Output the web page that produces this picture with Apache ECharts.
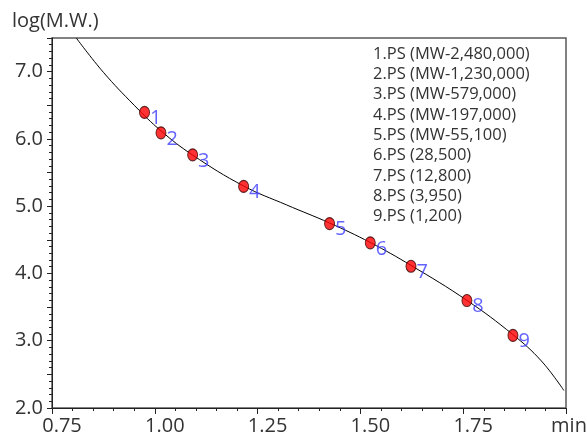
<!DOCTYPE html>
<html>
<head>
<meta charset="utf-8">
<script src="https://cdn.jsdelivr.net/npm/echarts@6/dist/echarts.min.js"></script>
<style>
  html, body { margin: 0; padding: 0; background: #fff; }
  #chart { width: 587px; height: 437px; }
</style>
</head>
<body>
<div id="chart"></div>
<script>
// Polystyrene standards: elution time (min) and log of molecular weight
const standardNumbers = ['1', '2', '3', '4', '5', '6', '7', '8', '9'];
const standardNames = [
  '1.PS (MW-2,480,000)',
  '2.PS (MW-1,230,000)',
  '3.PS (MW-579,000)',
  '4.PS (MW-197,000)',
  '5.PS (MW-55,100)',
  '6.PS (28,500)',
  '7.PS (12,800)',
  '8.PS (3,950)',
  '9.PS (1,200)'
];
const elutionTimes = [0.975, 1.015, 1.092, 1.216, 1.425, 1.524, 1.623, 1.759, 1.871];
const logMW = [6.394, 6.090, 5.763, 5.294, 4.741, 4.455, 4.107, 3.597, 3.079];

// Calibration curve, read along its length
const curveTimes = [0.809, 0.875, 0.950, 1.015, 1.092, 1.216, 1.320, 1.425, 1.524, 1.623, 1.759, 1.871, 1.940, 1.995];
const curveLogMW = [7.50, 6.99, 6.50, 6.12, 5.76, 5.30, 5.02, 4.75, 4.46, 4.12, 3.60, 3.09, 2.70, 2.26];

// Axis ranges
const xMin = 0.75, xMax = 2.0, xStep = 0.25;
const yMin = 2.0, yMax = 7.5, yStep = 0.5;
const xUnitLabel = 'min';
const yTitle = 'log(M.W.)';

const FONT = '"Open Sans", "Noto Sans", sans-serif';
const TEXT = '#333333';

const chart = echarts.init(document.getElementById('chart'), null, { renderer: 'canvas' });

const pointData = elutionTimes.map((t, i) => [t, logMW[i], standardNumbers[i]]);
const curveData = curveTimes.map((t, i) => [t, curveLogMW[i]]);

chart.setOption({
  animation: false,
  backgroundColor: '#ffffff',
  grid: {
    left: 52, right: 21, top: 38, bottom: 29,
    containLabel: false,
    outerBoundsMode: 'none',
    show: true,
    borderColor: '#5a5a5a',
    borderWidth: 1.5
  },
  xAxis: {
    type: 'value',
    min: xMin, max: xMax, interval: xStep,
    axisLine: { show: true, onZero: false, lineStyle: { color: '#222', width: 1 } },
    axisTick: { show: true, inside: false, length: 6, lineStyle: { color: '#222' } },
    minorTick: { show: true, splitNumber: 5, length: 3, lineStyle: { color: '#222' } },
    splitLine: { show: false },
    axisLabel: {
      show: true,
      showMinLabel: true,
      showMaxLabel: true,
      margin: 8,
      color: TEXT,
      fontFamily: FONT,
      fontSize: 20,
      formatter: v => Math.abs(v - xMax) < 1e-9 ? '{m|' + xUnitLabel + '}' : '{n|' + v.toFixed(2) + '}',
      rich: {
        n: { fontFamily: FONT, fontSize: 20, color: TEXT, padding: [0, 0, 0, 20] },
        m: { fontFamily: FONT, fontSize: 20, color: TEXT, padding: [0, 0, 0, 6] }
      }
    }
  },
  yAxis: {
    type: 'value',
    min: yMin, max: yMax, interval: yStep,
    axisLine: { show: true, onZero: false, lineStyle: { color: '#222', width: 1 } },
    axisTick: { show: true, inside: false, length: 5, lineStyle: { color: '#222' } },
    minorTick: { show: true, splitNumber: 5, length: 3, lineStyle: { color: '#222' } },
    splitLine: { show: false },
    axisLabel: {
      show: true,
      margin: 9,
      color: TEXT,
      fontFamily: FONT,
      fontSize: 20,
      formatter: v => Math.abs(v - Math.round(v)) < 1e-9 ? v.toFixed(1) : ''
    }
  },
  graphic: [
    {
      type: 'text',
      left: 12,
      top: 11,
      style: { text: yTitle, fill: TEXT, font: '20px ' + FONT }
    },
    {
      type: 'text',
      left: 373,
      top: 44,
      style: {
        text: standardNames.join('\n'),
        fill: TEXT,
        font: '16.5px ' + FONT,
        lineHeight: 20.3
      }
    }
  ],
  series: [
    {
      type: 'line',
      data: curveData,
      showSymbol: false,
      smooth: 0.4,
      lineStyle: { color: '#000000', width: 1 },
      z: 2,
      silent: true
    },
    {
      type: 'scatter',
      data: pointData,
      symbol: 'circle',
      symbolSize: [10, 12],
      itemStyle: { color: '#ff0000', borderColor: '#3a0000', borderWidth: 1 },
      label: {
        show: true,
        position: 'right',
        distance: 0,
        offset: [0, 6],
        color: '#3c3cff',
        fontFamily: FONT,
        fontSize: 20,
        formatter: p => p.data[2]
      },
      z: 3
    }
  ]
});
</script>
</body>
</html>
